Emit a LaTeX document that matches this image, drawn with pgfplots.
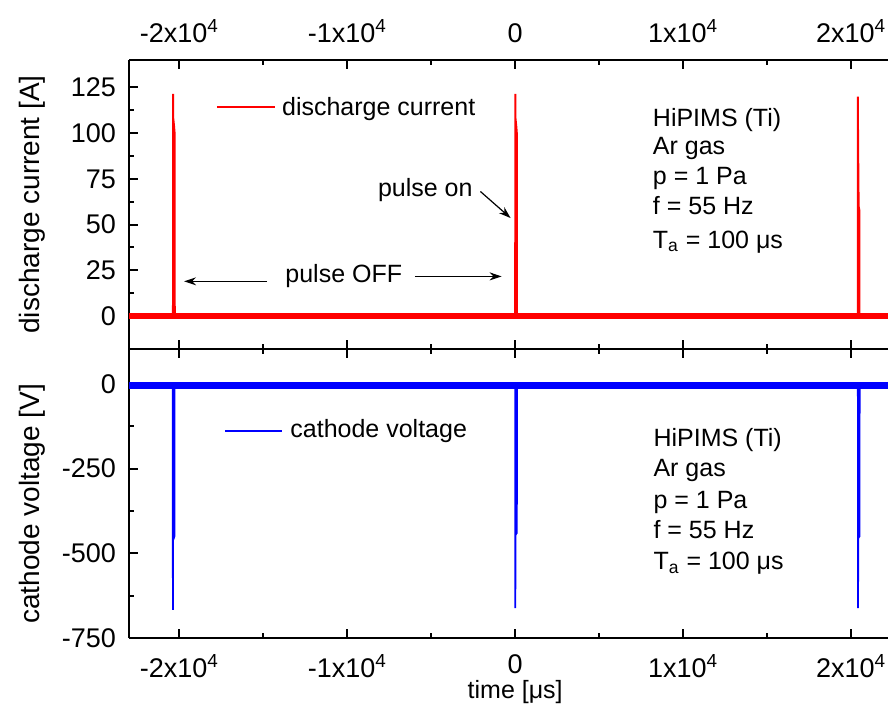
\documentclass[border=0pt]{standalone}
\usepackage{fontspec}
\setmainfont{Liberation Sans}
\usepackage{pgfplots}
\pgfplotsset{compat=1.18}
\usetikzlibrary{arrows.meta}

\newcommand{\cf}{\fontsize{12.5}{15}\selectfont}
\newcommand{\tf}{\fontsize{13.5}{16}\selectfont}

\pgfplotsset{
  panel/.style={
    width=379.5pt, height=144.5pt, scale only axis,
    xmin=-23000, xmax=22200,
    axis y line*=left,
    axis line style={line width=1pt},
    every tick/.style={black, line width=1pt},
    major tick length=4.5pt, minor tick length=2.5pt,
    xtick={-20000,-10000,0,10000,20000},
    xticklabels={-2x10\textsuperscript{4},-1x10\textsuperscript{4},0,1x10\textsuperscript{4},2x10\textsuperscript{4}},
    minor x tick num=1, minor y tick num=1,
    tick label style={font=\tf, inner sep=0pt},
    yticklabel style={xshift=-6.3pt},
    ylabel style={font=\fontsize{14}{16}\selectfont, anchor=center},
    xlabel style={font=\cf},
    /pgf/number format/assume math mode=true,
    scaled x ticks=false,
  },
}

\begin{document}
\begin{tikzpicture}[font=\cf]
\path[use as bounding box] (-64.5pt,-177pt) rectangle (379.5pt,174.5pt);

% discharge current
\begin{axis}[panel, at={(0,0)}, anchor=south west,
  ymin=-18, ymax=140, ytick={0,25,50,75,100,125},
  xticklabel pos=upper,
  xticklabel style={yshift=8.3pt},
  ylabel={discharge current [A]},
  ylabel style={at={(axis description cs:-0.1278,0.5)}},
]
\addplot[red, line width=3.2pt] coordinates {
  (-23000,0) (-11000,0) (0,0) (11000,0) (22200,0)
};
\addplot[red, line width=1pt] coordinates {
  (-20380,0) (-20375,121.5) (-20365,108) (-20320,104) (-20285,100) (-20275,0)
  (0,0) (5,121.5) (15,108) (60,104) (95,100) (105,0)
  (20400,0) (20405,120) (20415,97) (20450,60) (20490,58) (20500,0)
};

\draw[red, line width=1pt] (axis cs:-17774,114.2) -- (axis cs:-14304,114.2);
\node[anchor=base west, inner sep=0pt] at (axis cs:-13905,109.9) {discharge current};

\node[anchor=base east, inner sep=0pt] at (axis cs:-2518,65.4) {pulse on};
\draw[-{Stealth[length=6pt,width=4pt]}, line width=0.6pt] (axis cs:-2071,68.1) -- (axis cs:-274,53.6);

\node[anchor=base west, inner sep=0pt] at (axis cs:-13708,18.1) {pulse OFF};
\draw[-{Stealth[length=6pt,width=4pt]}, line width=0.6pt] (axis cs:-14780,19.0) -- (axis cs:-19720,19.0);
\draw[-{Stealth[length=6pt,width=4pt]}, line width=0.6pt] (axis cs:-5970,21.7) -- (axis cs:-810,21.7);

\node[anchor=base west, inner sep=0pt] at (axis cs:8179,103.6) {HiPIMS (Ti)};
\node[anchor=base west, inner sep=0pt] at (axis cs:8179,88.2) {Ar gas};
\node[anchor=base west, inner sep=0pt] at (axis cs:8179,71.8) {p = 1 Pa};
\node[anchor=base west, inner sep=0pt] at (axis cs:8179,55.4) {f = 55 Hz};
\node[anchor=base west, inner sep=0pt] at (axis cs:8179,37.2) {T\textsubscript{a} = 100 μs};
\end{axis}

% cathode voltage
\begin{axis}[panel, at={(0,0)}, anchor=north west,
  ymin=-750, ymax=103, ytick={-750,-500,-250,0},
  xticklabel style={yshift=-8pt},
  xlabel={time [μs]},
  xlabel style={at={(axis cs:0,-750)}, anchor=base, inner sep=0pt, yshift=-30pt},
  ylabel={cathode voltage [V]},
  ylabel style={at={(axis description cs:-0.1278,0.464)}},
]
\addplot[blue, line width=3.5pt] coordinates {
  (-23000,-4) (-11000,-4) (0,-4) (11000,-4) (22200,-4)
};
\addplot[blue, line width=0.9pt] coordinates {
  (-20390,-4) (-20385,-667) (-20375,-461) (-20330,-455) (-20295,-450) (-20285,-4)
  (0,-4) (5,-662) (15,-446) (60,-442) (95,-440) (105,-4)
  (20400,-4) (20405,-34) (20412,-45) (20415,-662) (20425,-456) (20470,-452) (20500,-450) (20510,-4)
};

\draw[blue, line width=1pt] (axis cs:-17280,-139) -- (axis cs:-13905,-139);
\node[anchor=base west, inner sep=0pt] at (axis cs:-13410,-156.8) {cathode voltage};

\node[anchor=base west, inner sep=0pt] at (axis cs:8214,-186.2) {HiPIMS (Ti)};
\node[anchor=base west, inner sep=0pt] at (axis cs:8214,-274.4) {Ar gas};
\node[anchor=base west, inner sep=0pt] at (axis cs:8214,-367.6) {p = 1 Pa};
\node[anchor=base west, inner sep=0pt] at (axis cs:8214,-455.9) {f = 55 Hz};
\node[anchor=base west, inner sep=0pt] at (axis cs:8214,-549.1) {T\textsubscript{a} = 100 μs};
\end{axis}
\end{tikzpicture}
\end{document}
